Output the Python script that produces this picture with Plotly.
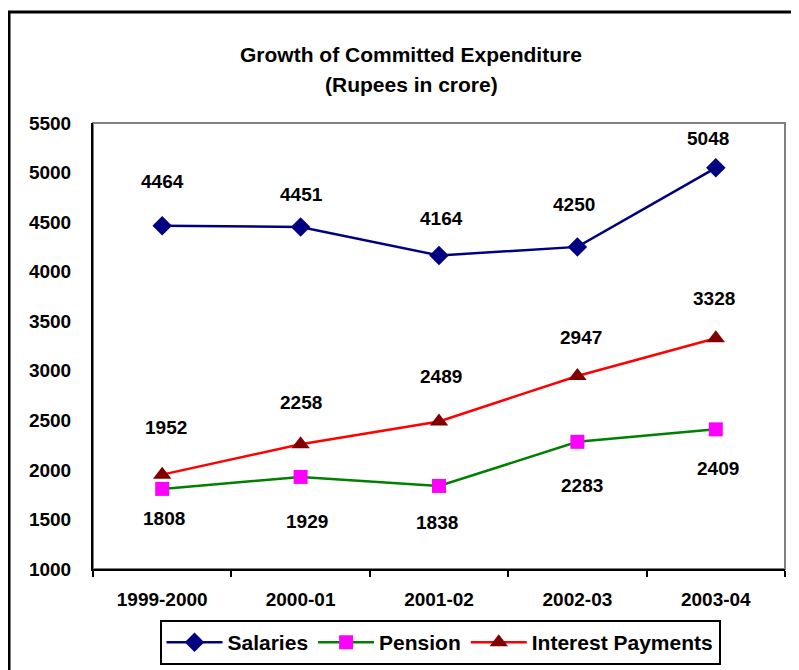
import plotly.graph_objects as go

YEARS = ["1999-2000", "2000-01", "2001-02", "2002-03", "2003-04"]
SALARIES = [4464, 4451, 4164, 4250, 5048]
PENSION = [1808, 1929, 1838, 2283, 2409]
INTEREST = [1952, 2258, 2489, 2947, 3328]

# label offsets in pixels (dx, dy) relative to each marker, as placed in the original
SALARY_SHIFT = [(0, 44), (1, 32), (2, 37), (-3, 42), (-8, 29)]
PENSION_SHIFT = [(2, -30), (6, -45), (-2, -37), (5, -44), (2, -39)]
INTEREST_SHIFT = [(4, 47), (0, 42), (2, 45), (4, 39), (-2, 40)]

FONT = "Arial, Liberation Sans, sans-serif"

fig = go.Figure()
fig.add_trace(
    go.Scatter(
        x=YEARS, y=SALARIES, name="Salaries", mode="lines+markers",
        line={"color": "#000080", "width": 2.5},
        marker={"symbol": "diamond", "size": 15, "color": "#000080"},
        legendrank=1,
    )
)
fig.add_trace(
    go.Scatter(
        x=YEARS, y=INTEREST, name="Interest Payments", mode="lines+markers",
        line={"color": "#ff0000", "width": 2.5},
        marker={"symbol": "triangle-up", "size": 16, "color": "#800000"},
        legendrank=3,
    )
)
fig.add_trace(
    go.Scatter(
        x=YEARS, y=PENSION, name="Pension", mode="lines+markers",
        line={"color": "#008000", "width": 2.5},
        marker={"symbol": "square", "size": 14, "color": "#ff00ff"},
        legendrank=2,
    )
)

for values, shifts in ((SALARIES, SALARY_SHIFT), (PENSION, PENSION_SHIFT), (INTEREST, INTEREST_SHIFT)):
    for year, value, (dx, dy) in zip(YEARS, values, shifts):
        fig.add_annotation(
            x=year, y=value, text=str(value), showarrow=False,
            xshift=dx, yshift=dy,
            font={"family": FONT, "size": 19, "color": "black", "weight": "bold"},
        )

# chart title, two lines (positions in screen pixels, plot area spans x 93-785, y 123-569)
for text, ypix in (("Growth of Committed Expenditure", 54), ("(Rupees in crore)", 84)):
    fig.add_annotation(
        xref="paper", yref="paper", x=(411 - 93) / 692, y=(569 - ypix) / 446,
        text=text, showarrow=False, xanchor="center", yanchor="middle",
        font={"family": FONT, "size": 21, "color": "black", "weight": "bold"},
    )

# plot-area frame (grey) and outer chart frame (black)
fig.add_shape(
    type="rect", xref="paper", yref="paper", x0=0, x1=1, y0=0, y1=1,
    line={"color": "#808080", "width": 2}, layer="below",
)
fig.add_shape(
    type="rect", xref="paper", yref="paper",
    x0=(9 - 93) / 692, x1=(830 - 93) / 692, y0=-0.4, y1=(569 - 12) / 446,
    line={"color": "black", "width": 3},
)

# the page puts the figure 8px in from the top-left corner
fig.update_layout(
    width=799, height=670,
    margin={"l": 85, "r": 22, "t": 115, "b": 109},
    paper_bgcolor="white", plot_bgcolor="white",
    font={"family": FONT, "size": 19, "color": "black", "weight": "bold"},
    showlegend=True,
    legend={
        "orientation": "h", "x": (440 - 93) / 692, "xanchor": "center",
        "y": (569 - 620) / 446, "yanchor": "top",
        "bordercolor": "black", "borderwidth": 2, "bgcolor": "white",
        "font": {"family": FONT, "size": 21, "color": "black", "weight": "bold"},
        "itemwidth": 56, "traceorder": "normal",
    },
)
fig.update_xaxes(
    type="category", range=[-0.5, 4.5], showgrid=False, zeroline=False,
    showline=True, linecolor="black", linewidth=2,
    ticks="outside", tickson="boundaries", ticklen=6, tickwidth=2, tickcolor="black",
    ticklabelstandoff=12,
)
fig.update_yaxes(
    range=[1000, 5500], dtick=500, showgrid=False, zeroline=False,
    showline=True, linecolor="black", linewidth=2, ticks="",
    ticklabelstandoff=16,
)

fig.write_html("out.html")
